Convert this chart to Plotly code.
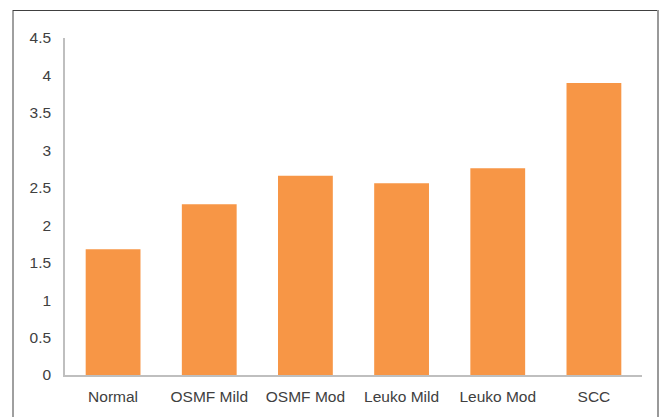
import plotly.graph_objects as go

categories = ["Normal", "OSMF Mild", "OSMF Mod", "Leuko Mild", "Leuko Mod", "SCC"]
values = [1.68, 2.28, 2.66, 2.56, 2.76, 3.90]
y_ticks = [0, 0.5, 1, 1.5, 2, 2.5, 3, 3.5, 4, 4.5]
y_tick_labels = ["0", "0.5", "1", "1.5", "2", "2.5", "3", "3.5", "4", "4.5"]

W, H = 662, 417
L, R, T, B = 65, 20, 38, 42
pw, ph = W - L - R, H - T - B

def px(x):
    return (x - L) / pw

def py(y):
    return (H - B - y) / ph

fig = go.Figure(go.Bar(x=categories, y=values, marker_color="#F79646", marker_line_width=0))

fig.update_layout(
    width=W, height=H,
    margin=dict(l=L, r=R, t=T, b=B, pad=0),
    paper_bgcolor="white", plot_bgcolor="white",
    bargap=0.43,
    showlegend=False,
    font=dict(family="Liberation Sans, Arial, sans-serif", size=15.5, color="#404040"),
    xaxis=dict(showline=True, linecolor="#BFBFBF", linewidth=1.5, showgrid=False,
               ticks="outside", ticklen=7, tickcolor="rgba(0,0,0,0)",
               zeroline=False, fixedrange=True),
    yaxis=dict(range=[0, 4.5], tickvals=y_ticks, ticktext=y_tick_labels,
               showline=True, linecolor="#BFBFBF", linewidth=1.5, showgrid=False,
               ticks="outside", ticklen=9, tickcolor="rgba(0,0,0,0)",
               zeroline=False, fixedrange=True),
    shapes=[
        dict(type="line", xref="paper", yref="paper", x0=px(13), x1=px(13), y0=py(430), y1=py(10),
             line=dict(color="#404040", width=1)),
        dict(type="line", xref="paper", yref="paper", x0=px(13), x1=px(658), y0=py(10.5), y1=py(10.5),
             line=dict(color="#404040", width=1.2)),
        dict(type="line", xref="paper", yref="paper", x0=px(658), x1=px(658), y0=py(430), y1=py(10),
             line=dict(color="#999999", width=2)),
    ],
)

fig.write_html("out.html", config={"displayModeBar": False},
               post_script="document.body.style.margin='0px';document.body.style.overflow='hidden';")
